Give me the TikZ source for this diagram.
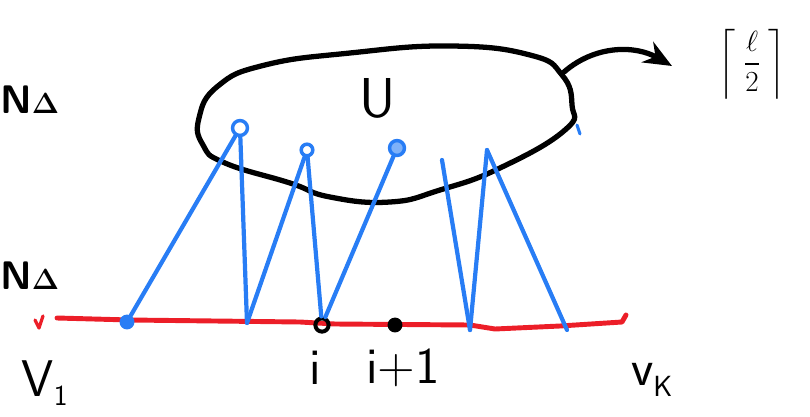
\documentclass[tikz,border=0pt]{standalone}
\usepackage{amsmath}
\usepackage{xcolor}
\usetikzlibrary{arrows.meta,positioning}
\definecolor{penblue}{RGB}{40,125,245}
\definecolor{penred}{RGB}{236,30,40}

\begin{document}
\begin{tikzpicture}[x=0.03cm,y=-0.03cm,line cap=round,line join=round, ink/.style={black,line width=4.5pt}, edge/.style={penblue,line width=3.6pt}, vtx/.style={circle,draw=penblue,fill=white,line width=3pt,inner sep=4.5pt}, dot/.style={circle,fill,inner sep=4pt}, hand/.style={font=\fontsize{44}{44}\selectfont\sffamily}]
\useasboundingbox (0,0) rectangle (810,416);
% the set U
\draw[ink] plot[smooth cycle,tension=0.8] coordinates {(199,118) (218,86) (265,65) (350,53) (450,46) (530,55) (562,75) (572,105) (565,130) (500,168) (440,190) (390,202) (330,197) (290,183) (225,163) (203,145)};
\node[font=\fontsize{48}{48}\selectfont\sffamily] (setU) at (378,98) {U};
\node[font=\fontsize{36}{36}\selectfont] (half) at (752,64) {$\displaystyle\left\lceil \;\frac{\ell}{2}\; \right\rceil$};
\coordinate (Uedge) at (564,72);
\coordinate (tip) at (672,66);
\draw[ink,-{Stealth[length=24pt,width=20pt]}] (Uedge) .. controls (595,45) and (635,45) .. (tip);
\draw[penblue,line width=2.6pt] (577,125)--(580,134);
% path v_1 ... v_k
\draw[penred,line width=4.2pt] (57,318) -- (130,320) -- (300,322) -- (335,324) -- (470,325) -- (495,329) -- (560,326) -- (622,322) -- (626,315);
\draw[penred,line width=2.8pt] (35,320) -- (39,328) -- (43,316);
\node[dot,penblue,inner sep=4.5pt] (a1) at (127,322) {};
\node[circle,draw,line width=3.4pt,inner sep=4pt] (i) at (322,325) {};
\node[dot,inner sep=4.5pt] (i1) at (395,325) {};
\coordinate (b1) at (247,323);
\coordinate (c1) at (470,330);
\coordinate (c2) at (567,330);
% vertices in U
\node[vtx] (u1) at (240,128) {};
\node[vtx,inner sep=3.5pt] (u2) at (307,150) {};
\node[vtx,fill=penblue!60] (u3) at (397,148) {};
\coordinate (u4) at (487,150);
\coordinate (u5) at (442,160);
\draw[edge] (a1) -- (u1);
\draw[edge] (u1) -- (b1);
\draw[edge] (b1) -- (u2);
\draw[edge] (u2) -- (i);
\draw[edge] (i) -- (u3);
\draw[edge] (u5) -- (c1);
\draw[edge] (c1) -- (u4);
\draw[edge] (u4) -- (c2);
% labels
\node[font=\fontsize{34}{34}\selectfont\sffamily\bfseries,anchor=west] (na1) at (-4,100) {N$\boldsymbol{\Delta}$};
\node[font=\fontsize{34}{34}\selectfont\sffamily\bfseries,anchor=west] (na2) at (-4,276) {N$\boldsymbol{\Delta}$};
\node[hand] (v1) at (45,383) {V$_{\mathsf{1}}$};
\node[hand] (li) at (315,368) {i};
\node[hand] (li1) at (403,368) {i+1};
\node[hand] (vk) at (652,380) {v$_{\mathsf{K}}$};
\end{tikzpicture}
\end{document}
